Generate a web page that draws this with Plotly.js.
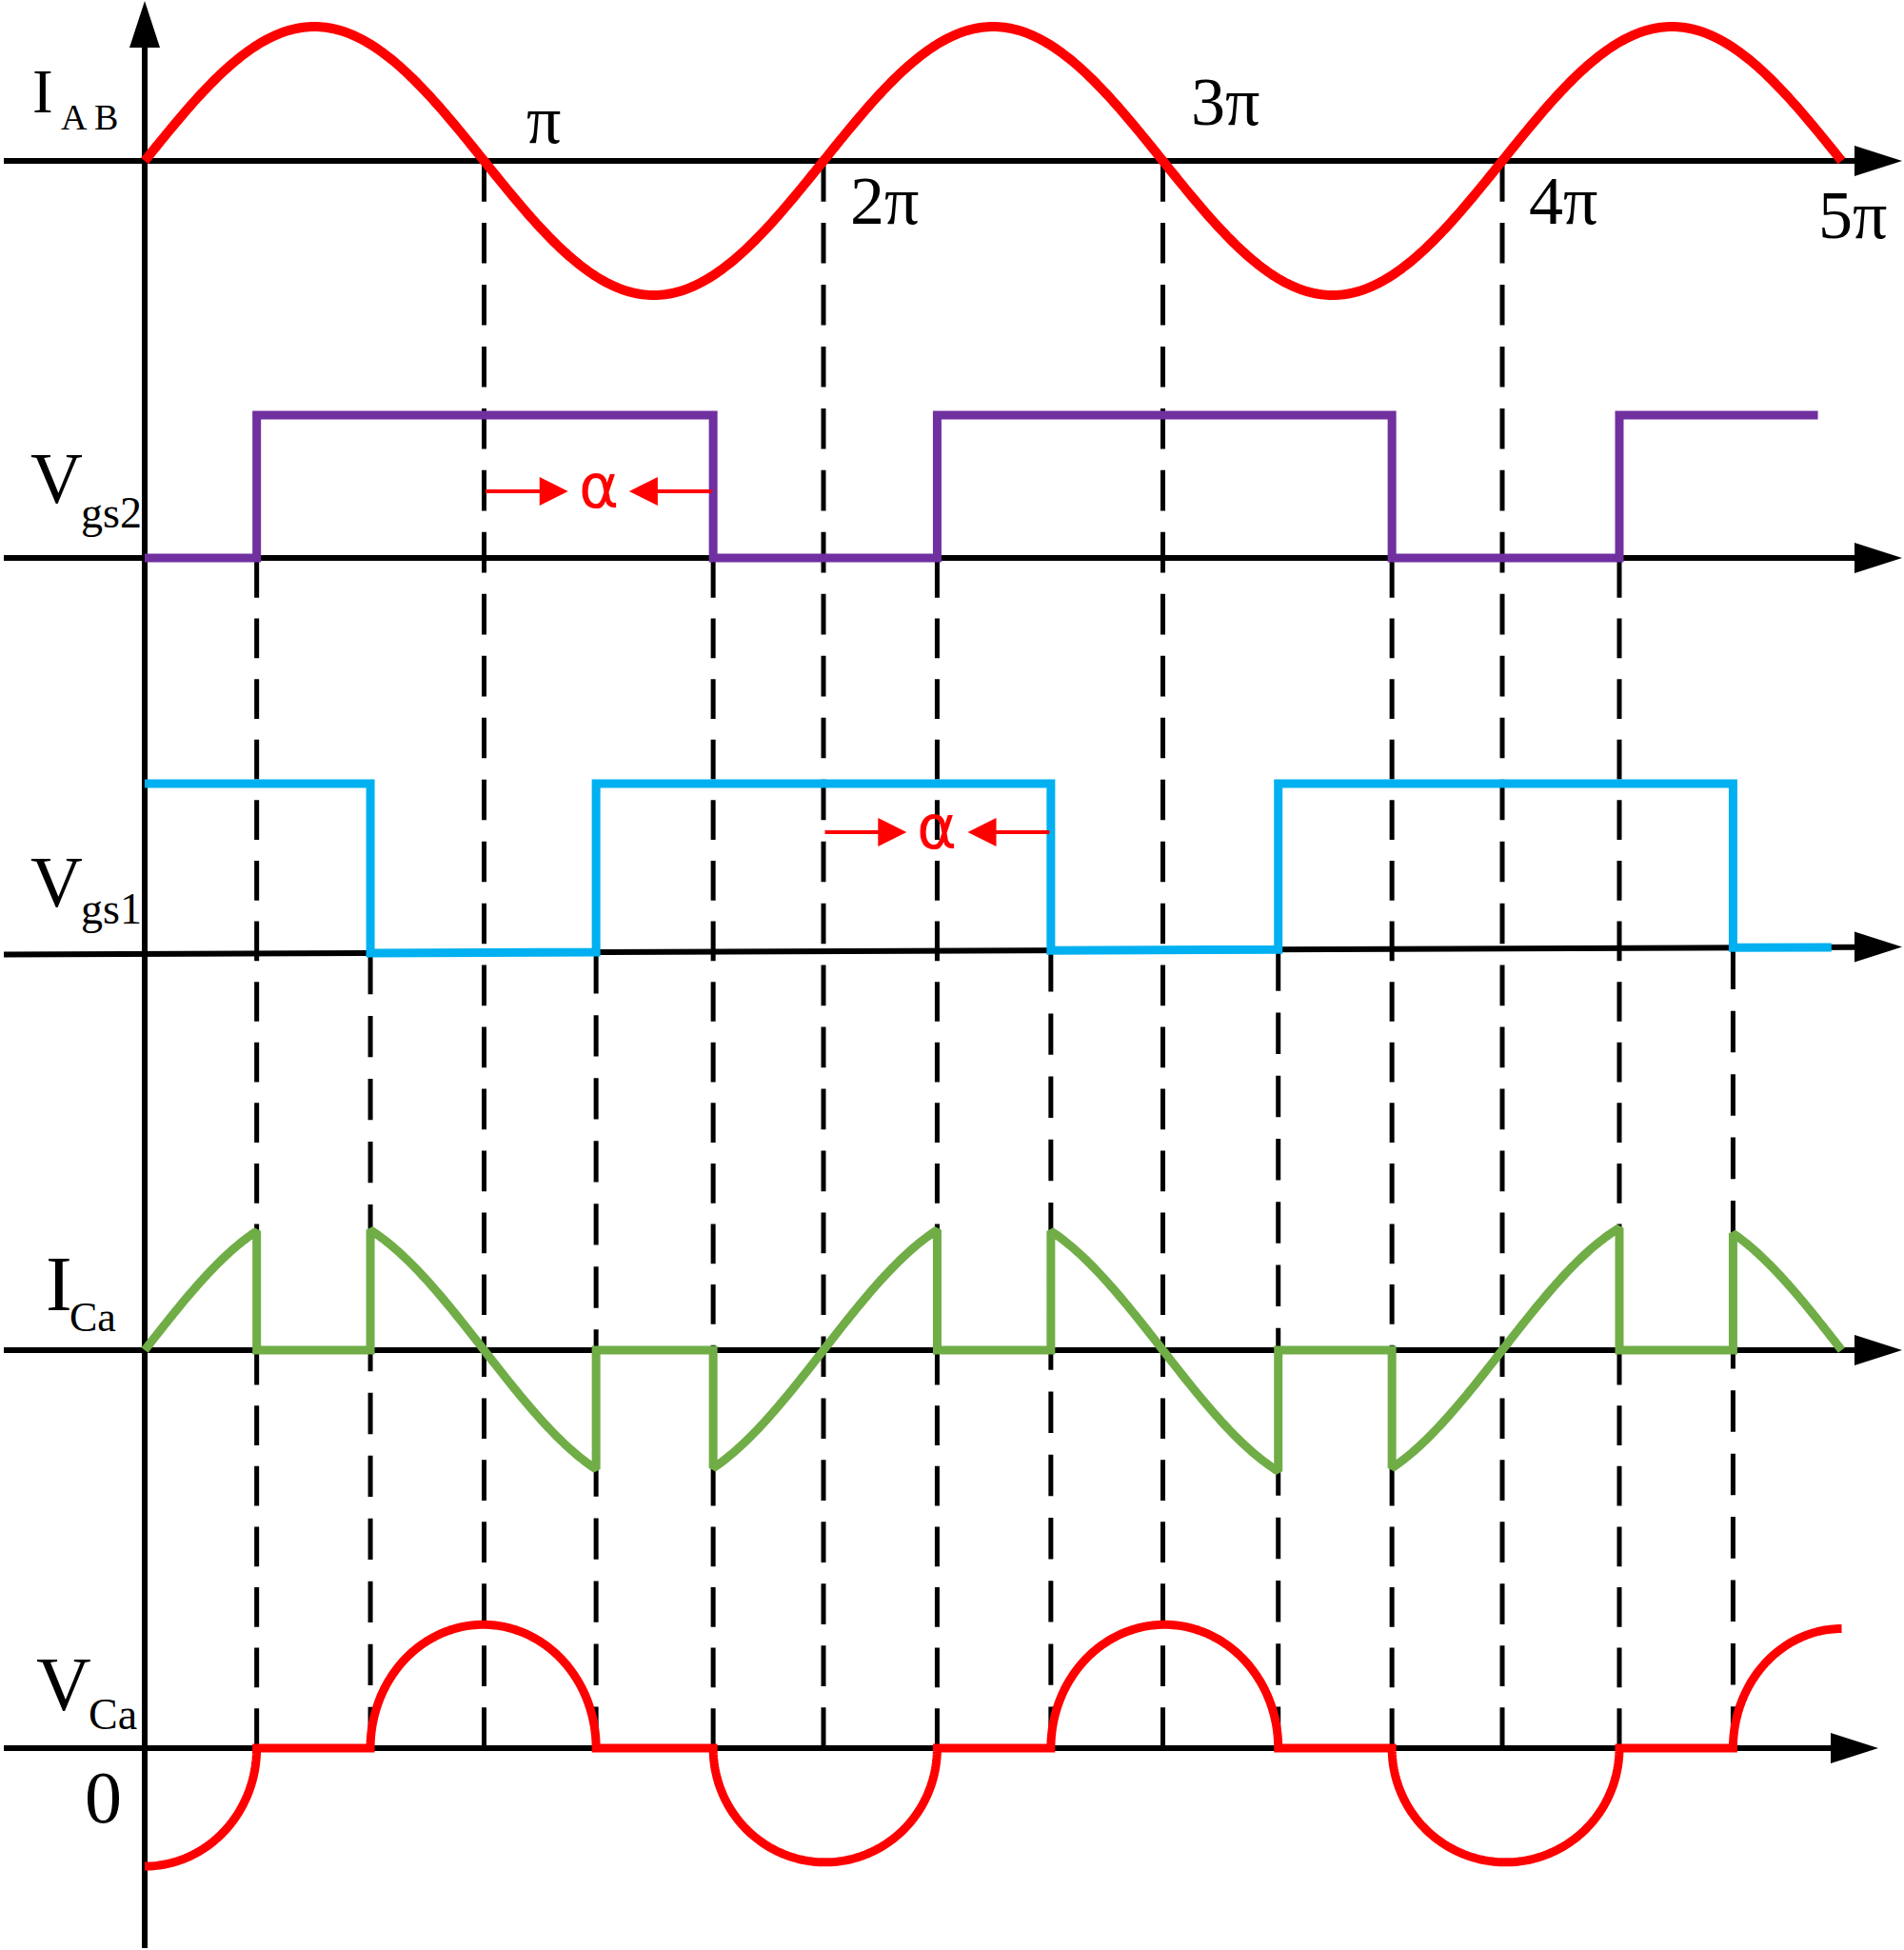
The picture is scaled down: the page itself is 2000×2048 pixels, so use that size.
<!DOCTYPE html>
<html><head><meta charset="utf-8">
<script src="https://cdn.plot.ly/plotly-3.0.1.min.js"></script>
<style>html,body{margin:0;padding:0;background:#fff}#chart{width:2000px;height:2048px}</style>
</head><body><div id="chart"></div>
<script>
// ---------------- data (angles in units of π, signal values normalised) ----------------
const tickAngles = [1, 2, 3, 4, 5];
const tickLabels = ['π', '2π', '3π', '4π', '5π'];
const iabAmplitude = 1.0;
const iabRange = [0, 5];
const iabZeroCrossings = [1, 2, 3, 4];
const vgs2Edges = [0.33, 1.675, 2.335, 3.675, 4.345];
const vgs2StartLevel = 0;
const vgs2EndAngle = 4.93;
const vgs1Edges = [0.665, 1.33, 2.67, 3.34, 4.68];
const vgs1StartLevel = 1;
const vgs1EndAngle = 4.97;
const icaAmplitude = 1.03;
const icaZeroStart = [0.33, 1.33, 2.335, 3.34, 4.345];
const icaZeroEnd = [0.665, 1.675, 2.67, 3.675, 4.68];
const icaRange = [0, 5];
const vcaHumpStart = [-0.33, 0.665, 1.675, 2.67, 3.675, 4.68];
const vcaHumpEnd = [0.33, 1.33, 2.335, 3.34, 4.345, 5.32];
const vcaHumpPeak = [-0.88, 0.92, -0.85, 0.92, -0.85, 0.89];
const vcaRange = [0, 5];
const alphaFrom = [1, 2];
const alphaTo = [1.675, 2.67];
const alphaLabel = 'α';
const signalNames = ['I', 'V', 'V', 'I', 'V'];
const signalSubs = ['A\u2009B', 'gs2', 'gs1', 'Ca', 'Ca'];
const zeroLabel = '0';

// ---------------- layout constants (pixels) ----------------
const W = 2000, H = 2048, PX0 = 152, PXPI = 356.5;
const th = px => (px - PX0) / PXPI;
const panels = ['iab', 'vgs2', 'vgs1', 'ica', 'vca'];
const base = {iab: 169, vgs2: 586, vgs1: 1002, ica: 1418, vca: 1836};
const scale = {iab: 141, vgs2: 150, vgs1: 179, ica: 141, vca: 141};
const tilt = {iab: 0, vgs2: 0, vgs1: -1.43, ica: 0, vca: 0};
const baseAt = (p, t) => base[p] + tilt[p] * t;
const Y = (p, v, t) => base[p] - v * scale[p] + (v === 0 ? tilt[p] * t : 0);
const Ylow = (p, v, t) => v === 0 ? baseAt(p, t) : base[p] - v * scale[p];

const RED = '#ff0000', PURPLE = '#7030a0', BLUE = '#00b0f0', GREEN = '#70ad47';

// ---------------- traces ----------------
const iabX = [], iabY = [];
for (let i = 0; i <= 600; i++) {
  const t = iabRange[0] + (iabRange[1] - iabRange[0]) * i / 600;
  iabX.push(t); iabY.push(Y('iab', iabAmplitude * Math.sin(Math.PI * t), t));
}

function stepTrace(p, startLevel, edges, endAngle) {
  const xs = [0], ys = [Ylow(p, startLevel, 0)];
  let lvl = startLevel;
  edges.forEach(e => {
    xs.push(e); ys.push(Ylow(p, lvl, e));
    lvl = 1 - lvl;
    xs.push(e); ys.push(Ylow(p, lvl, e));
  });
  xs.push(endAngle); ys.push(Ylow(p, lvl, endAngle));
  return {xs, ys};
}
const vgs2 = stepTrace('vgs2', vgs2StartLevel, vgs2Edges, vgs2EndAngle);
const vgs1 = stepTrace('vgs1', vgs1StartLevel, vgs1Edges, vgs1EndAngle);

const icaX = [], icaY = [];
const condStart = [icaRange[0], ...icaZeroEnd], condEnd = [...icaZeroStart, icaRange[1]];
condStart.forEach((a, k) => {
  const b = condEnd[k];
  if (k > 0) { icaX.push(a); icaY.push(Y('ica', 0, a)); }
  for (let i = 0; i <= 80; i++) {
    const t = a + (b - a) * i / 80;
    icaX.push(t); icaY.push(Y('ica', icaAmplitude * Math.sin(Math.PI * t), t));
  }
  if (k < condStart.length - 1) { icaX.push(b); icaY.push(Y('ica', 0, b)); }
});

const vcaX = [], vcaY = [];
vcaHumpStart.forEach((a, k) => {
  const b = vcaHumpEnd[k], c = (a + b) / 2, w = (b - a) / 2, h = vcaHumpPeak[k];
  for (let i = 0; i <= 120; i++) {
    const phi = Math.PI * i / 120;
    const t = c - w * Math.cos(phi);
    if (t < vcaRange[0] - 1e-9 || t > vcaRange[1] + 1e-9) continue;
    const v = h * Math.sin(phi);
    vcaX.push(t); vcaY.push(base.vca - v * scale.vca);
  }
});

const line = (x, y, color, width) => ({x, y, type: 'scatter', mode: 'lines', hoverinfo: 'skip',
  line: {color, width, shape: 'linear', simplify: false}});
const traces = [
  line(iabX, iabY, RED, 10),
  line(vgs2.xs, vgs2.ys, PURPLE, 9),
  line(vgs1.xs, vgs1.ys, BLUE, 9),
  line(icaX, icaY, GREEN, 9),
  line(vcaX, vcaY, RED, 9)
];

// ---------------- shapes: axes, arrowheads, dashed guides ----------------
const shapes = [];
const AXW = 6;
shapes.push({type: 'line', xref: 'x', yref: 'y', x0: 0, x1: 0, y0: 2046, y1: 45, layer: 'below',
  line: {color: '#000', width: AXW}});
shapes.push({type: 'path', xref: 'x', yref: 'y', layer: 'below', fillcolor: '#000', line: {width: 0},
  path: `M ${th(PX0)},1 L ${th(PX0 - 16)},50 L ${th(PX0 + 16)},50 Z`});
const axisTip = {iab: 1998, vgs2: 1998, vgs1: 1998, ica: 1998, vca: 1973};
panels.forEach(p => {
  const xl = th(4), xb = th(axisTip[p] - 48), xt = th(axisTip[p]);
  shapes.push({type: 'line', xref: 'x', yref: 'y', layer: 'below', x0: xl, x1: xb,
    y0: baseAt(p, xl), y1: baseAt(p, xb), line: {color: '#000', width: AXW}});
  const yt = baseAt(p, xt);
  shapes.push({type: 'path', xref: 'x', yref: 'y', layer: 'below', fillcolor: '#000', line: {width: 0},
    path: `M ${xt},${yt} L ${th(axisTip[p] - 50)},${yt - 16} L ${th(axisTip[p] - 50)},${yt + 16} Z`});
});
// dashed guides: dash pattern fitted so that both ends of each guide are solid
const DASH = 42, GAP = 22;
const guide = (t, p) => {
  const y0 = baseAt(p, t), y1 = base.vca, L = y1 - y0;
  const n = Math.max(1, Math.round((L + GAP) / (DASH + GAP)));
  const s = L / (n * DASH + (n - 1) * GAP);
  shapes.push({type: 'line', xref: 'x', yref: 'y', layer: 'below',
    x0: t, x1: t, y0, y1,
    line: {color: '#000', width: 5, dash: `${(DASH * s).toFixed(2)}px,${(GAP * s).toFixed(2)}px`}});
};
iabZeroCrossings.forEach(t => guide(t, 'iab'));
vgs2Edges.forEach(t => guide(t, 'vgs2'));
vgs1Edges.forEach(t => guide(t, 'vgs1'));

// ---------------- annotations ----------------
const annotations = [];
const SERIF = 'Liberation Serif, Times New Roman, serif';
function txt(text, leftPx, baselinePx, fs, opts = {}) {
  annotations.push(Object.assign({xref: 'x', yref: 'y', x: th(leftPx), y: baselinePx - 0.34 * fs,
    xanchor: 'left', yanchor: 'middle', text, showarrow: false, borderpad: 0,
    font: {family: SERIF, size: fs, color: '#000'}}, opts));
}
const tickBaseline = [150, 235, 131, 235, 250], tickShift = [42, 26, 27, 26, -27];
tickAngles.forEach((a, i) => {
  annotations.push({xref: 'x', yref: 'y', x: a, xshift: tickShift[i], y: tickBaseline[i] - 0.34 * 72,
    xanchor: 'left', yanchor: 'middle', text: tickLabels[i], showarrow: false,
    font: {family: SERIF, size: 72, color: '#000'}});
});
const mainLeft = [33, 31, 31, 47, 37], mainBase = [118, 528, 952, 1376, 1796], mainSize = [65, 76, 76, 83, 80];
const subLeft = [63, 84, 84, 72, 92], subBase = [136, 554, 970, 1398, 1816], subSize = [38, 46, 46, 44, 46];
signalNames.forEach((n, i) => {
  txt(n, mainLeft[i], mainBase[i], mainSize[i]);
  txt(signalSubs[i], subLeft[i], subBase[i], subSize[i]);
});
txt(zeroLabel, 88, 1914, 78);
const alphaRowPanel = ['vgs2', 'vgs1'], alphaRowLevel = [0.467, 0.715], alphaGap = 0.09;
alphaFrom.forEach((a, i) => {
  const b = alphaTo[i], mid = (a + b) / 2, p = alphaRowPanel[i];
  const yRow = base[p] - alphaRowLevel[i] * scale[p];
  const arrow = (tip, tail) => annotations.push({xref: 'x', yref: 'y', axref: 'x', ayref: 'y',
    x: tip, y: yRow, ax: tail, ay: yRow, text: '', showarrow: true, arrowhead: 2, arrowsize: 1.5,
    arrowwidth: 4, arrowcolor: RED});
  arrow(mid - alphaGap, a);
  arrow(mid + alphaGap, b);
  annotations.push({xref: 'x', yref: 'y', x: mid, y: yRow - 5, xanchor: 'center', yanchor: 'middle',
    text: alphaLabel, showarrow: false, font: {family: 'DejaVu Sans, sans-serif', size: 64, color: RED}});
});

const layout = {
  width: W, height: H, margin: {l: 0, r: 0, t: 0, b: 0, pad: 0},
  paper_bgcolor: '#fff', plot_bgcolor: '#fff', showlegend: false,
  xaxis: {range: [th(0), th(W)], visible: false, fixedrange: true},
  yaxis: {range: [H, 0], visible: false, fixedrange: true},
  shapes, annotations
};
Plotly.newPlot('chart', traces, layout, {staticPlot: true, displayModeBar: false});
</script>
</body></html>
